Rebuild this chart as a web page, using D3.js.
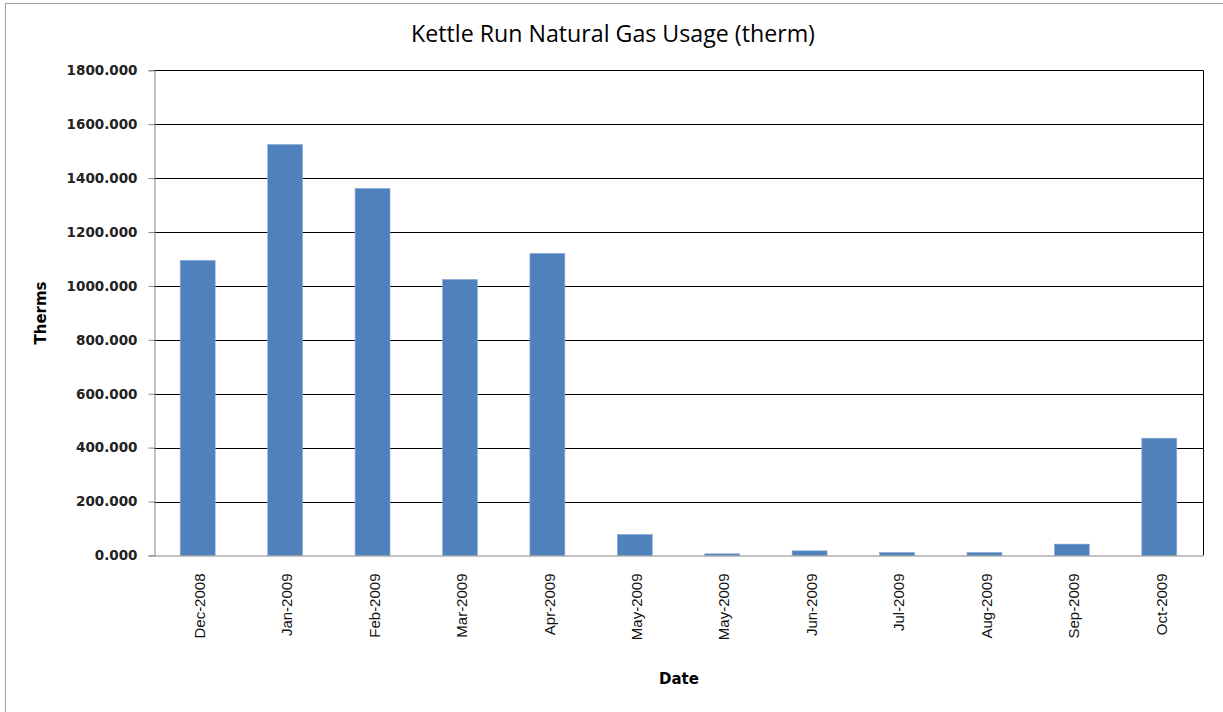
<!DOCTYPE html>
<html><head><meta charset="utf-8">
<script src="https://cdn.jsdelivr.net/npm/d3@7"></script>
<style>html,body{margin:0;padding:0;background:#fff;}</style>
</head><body>
<svg id="c" width="1223" height="712"></svg>
<script>
const categories = ["Dec-2008","Jan-2009","Feb-2009","Mar-2009","Apr-2009","May-2009","May-2009","Jun-2009","Jul-2009","Aug-2009","Sep-2009","Oct-2009"];
const values = [1095, 1525, 1362, 1024, 1121, 78, 6, 17, 11, 11, 42, 435];
const yTicks = [0,200,400,600,800,1000,1200,1400,1600,1800];
const title = "Kettle Run Natural Gas Usage (therm)";
const yTitle = "Therms";
const xTitle = "Date";

const svg = d3.select("#c");
const L = 154, R = 1203, T = 70.3, B = 555.4;

// outer chart border
svg.append("rect").attr("x",5.5).attr("y",3.5).attr("width",1240).attr("height",720)
  .attr("fill","none").attr("stroke","#a0a0a0").attr("stroke-width",1);

const x = d3.scaleBand().domain(d3.range(categories.length)).range([L,R]).paddingInner(0.6).paddingOuter(0.3);
const y = d3.scaleLinear().domain([0,1800]).range([B,T]);

// gridlines
svg.append("g").selectAll("line").data(yTicks.filter(d=>d>0)).join("line")
  .attr("x1",L).attr("x2",R).attr("y1",d=>Math.round(y(d))+0.5).attr("y2",d=>Math.round(y(d))+0.5)
  .attr("stroke","#000").attr("stroke-width",1);

// right border of plot
svg.append("line").attr("x1",R+0.5).attr("x2",R+0.5).attr("y1",T).attr("y2",B).attr("stroke","#000");

// bars
svg.append("g").selectAll("rect").data(values).join("rect")
  .attr("x",(d,i)=>x(i)).attr("width",x.bandwidth())
  .attr("y",d=>y(d)).attr("height",d=>B-y(d))
  .attr("fill","#4F81BD").attr("stroke","#8eb0da").attr("stroke-width",0.6);

// y axis
const yAxis = d3.axisLeft(y).tickValues(yTicks).tickFormat(d3.format(".3f")).tickSize(6).tickPadding(11);
const gy = svg.append("g").attr("transform",`translate(${L+0.5},0)`).call(yAxis);
gy.select(".domain").attr("stroke","#868686");
gy.selectAll(".tick line").attr("stroke","#868686");
gy.selectAll("text").attr("font-family","Verdana, 'DejaVu Sans', sans-serif").attr("font-weight","bold")
  .attr("font-size","13.5px").attr("fill","#222");

// x axis
const xAxis = d3.axisBottom(x).tickFormat(i=>categories[i]).tickSize(0).tickPadding(0);
const gx = svg.append("g").attr("transform",`translate(0,${Math.round(B)+0.5})`).call(xAxis);
gx.select(".domain").attr("stroke","#868686");
gx.selectAll("text").attr("font-family","Arial, 'Liberation Sans', sans-serif").attr("font-size","15px")
  .attr("fill","#111").attr("text-anchor","end")
  .attr("transform","rotate(-90)").attr("x",-18).attr("y",2).attr("dy","0.35em").attr("dx",0);

// title
const tt = svg.append("text").attr("x",613).attr("y",42).attr("text-anchor","middle")
  .attr("font-family","'Open Sans', Lato, sans-serif").attr("font-size","20px").attr("fill","#000").text(title);
const tw = tt.node().getComputedTextLength();
tt.attr("font-size", (20*404/tw).toFixed(2)+"px");

// axis titles
svg.append("text").attr("transform","translate(46,313) rotate(-90)").attr("text-anchor","middle")
  .attr("font-family","Verdana, 'DejaVu Sans', sans-serif").attr("font-weight","bold").attr("font-size","15px").text(yTitle);
svg.append("text").attr("x",679).attr("y",684).attr("text-anchor","middle")
  .attr("font-family","Verdana, 'DejaVu Sans', sans-serif").attr("font-weight","bold").attr("font-size","15px").text(xTitle);
</script>
</body></html>
